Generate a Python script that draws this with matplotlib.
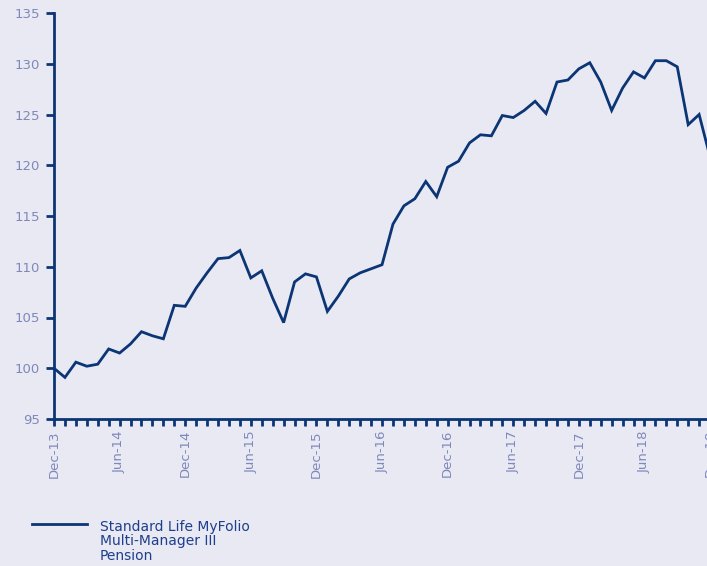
import matplotlib.pyplot as plt
import numpy as np

# valori mensili, Dec-13 .. Dec-18
months = ['Dec-13', 'Jan-14', 'Feb-14', 'Mar-14', 'Apr-14', 'May-14', 'Jun-14', 'Jul-14', 'Aug-14',
          'Sep-14', 'Oct-14', 'Nov-14', 'Dec-14', 'Jan-15', 'Feb-15', 'Mar-15', 'Apr-15', 'May-15',
          'Jun-15', 'Jul-15', 'Aug-15', 'Sep-15', 'Oct-15', 'Nov-15', 'Dec-15', 'Jan-16', 'Feb-16',
          'Mar-16', 'Apr-16', 'May-16', 'Jun-16', 'Jul-16', 'Aug-16', 'Sep-16', 'Oct-16', 'Nov-16',
          'Dec-16', 'Jan-17', 'Feb-17', 'Mar-17', 'Apr-17', 'May-17', 'Jun-17', 'Jul-17', 'Aug-17',
          'Sep-17', 'Oct-17', 'Nov-17', 'Dec-17', 'Jan-18', 'Feb-18', 'Mar-18', 'Apr-18', 'May-18',
          'Jun-18', 'Jul-18', 'Aug-18', 'Sep-18', 'Oct-18', 'Nov-18', 'Dec-18']
values = [100.0, 99.1, 100.6, 100.2, 100.4, 101.9, 101.5, 102.4, 103.6,
          103.2, 102.9, 106.2, 106.1, 107.9, 109.4, 110.8, 110.9, 111.6,
          108.9, 109.6, 106.9, 104.5, 108.5, 109.3, 109.0, 105.6, 107.1,
          108.8, 109.4, 109.8, 110.2, 114.2, 116.0, 116.7, 118.4, 116.9,
          119.8, 120.4, 122.2, 123.0, 122.9, 124.9, 124.7, 125.4, 126.3,
          125.1, 128.2, 128.4, 129.5, 130.1, 128.2, 125.4, 127.6, 129.2,
          128.6, 130.3, 130.3, 129.7, 124.0, 125.0, 120.8]
label = 'Standard Life MyFolio\nMulti-Manager III\nPension'

navy = '#0b3575'
grey_txt = '#7f88bb'
bg = '#e8e9f2'

fig = plt.figure(figsize=(7.07, 5.66), dpi=100, facecolor=bg)
ax = fig.add_axes([54 / 707, 1 - 419 / 566, 667 / 707, 406 / 566])
ax.set_facecolor(bg)

x = np.arange(len(values))
ax.plot(x, values, color=navy, lw=2.0, label=label, solid_joinstyle='miter')

ax.set_xlim(0, 61)
ax.set_ylim(95, 135)
ax.set_yticks(range(95, 136, 5))
ax.set_xticks(x, minor=True)
ax.set_xticks(x[::6])
ax.set_xticklabels(months[::6], rotation=90)

for s in ['top', 'right']:
    ax.spines[s].set_visible(False)
for s in ['left', 'bottom']:
    ax.spines[s].set_color(navy)
    ax.spines[s].set_linewidth(2)

ax.tick_params(axis='y', length=6, width=2, color=navy, labelcolor=grey_txt, labelsize=9.5, pad=4)
ax.tick_params(axis='x', which='both', length=5, width=2, color=navy, labelcolor=grey_txt,
               labelsize=9.5, pad=3)

leg = ax.legend(loc='upper left', bbox_to_anchor=(26 / 707, 1 - 514 / 566),
                bbox_transform=fig.transFigure, frameon=False, handlelength=4.0,
                handletextpad=0.9, fontsize=10, labelcolor='#1e3f8c', borderaxespad=0)
# linea della legenda allineata con la prima riga del testo
for col in leg._legend_handle_box.get_children():
    for row in col.get_children():
        row.align = 'top'
for t in leg.get_texts():
    t.set_linespacing(1.05)

fig.savefig('out.png', dpi=100, facecolor=bg)
